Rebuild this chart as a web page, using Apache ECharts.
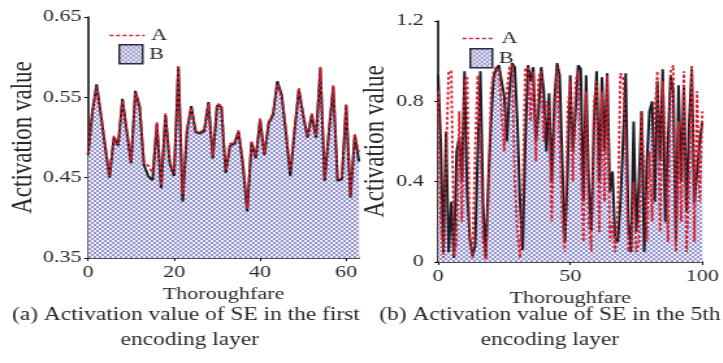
<!DOCTYPE html>
<html>
<head>
<meta charset="utf-8">
<script src="https://cdn.jsdelivr.net/npm/echarts@6/dist/echarts.min.js"></script>
<style>
  html, body { margin: 0; padding: 0; background: #fff; overflow: hidden; }
  #wrap { width: 723px; height: 363px; overflow: hidden; }
  /* the figure is drawn on a narrower canvas and widened horizontally */
  #chart { width: 556px; height: 363px; transform: scaleX(1.3); transform-origin: 0 0; }
</style>
</head>
<body>
<div id="wrap"><div id="chart"></div></div>
<script>
// ---- Panel (a): first encoding layer, 64 thoroughfares ----
const seA_layer1 = [
  0.480, 0.530, 0.563, 0.530, 0.490, 0.452, 0.502, 0.492, 0.546, 0.510,
  0.471, 0.555, 0.540, 0.469, 0.465, 0.456, 0.519, 0.440, 0.530, 0.470,
  0.456, 0.590, 0.430, 0.510, 0.537, 0.509, 0.507, 0.510, 0.542, 0.477,
  0.542, 0.540, 0.459, 0.492, 0.494, 0.509, 0.470, 0.411, 0.496, 0.477,
  0.524, 0.480, 0.520, 0.530, 0.567, 0.555, 0.510, 0.459, 0.510, 0.562,
  0.530, 0.502, 0.530, 0.502, 0.588, 0.449, 0.510, 0.565, 0.449, 0.450,
  0.542, 0.427, 0.505, 0.480
];
const seB_layer1 = [
  0.478, 0.532, 0.566, 0.528, 0.488, 0.450, 0.500, 0.490, 0.548, 0.508,
  0.468, 0.558, 0.538, 0.466, 0.452, 0.447, 0.517, 0.437, 0.528, 0.468,
  0.452, 0.588, 0.420, 0.508, 0.539, 0.507, 0.505, 0.508, 0.544, 0.474,
  0.540, 0.538, 0.456, 0.490, 0.492, 0.507, 0.466, 0.408, 0.494, 0.474,
  0.522, 0.478, 0.518, 0.528, 0.570, 0.553, 0.506, 0.452, 0.508, 0.560,
  0.528, 0.500, 0.528, 0.500, 0.586, 0.446, 0.508, 0.563, 0.446, 0.448,
  0.540, 0.425, 0.503, 0.470
];
const yTicks_layer1 = [0.35, 0.45, 0.55, 0.65];
const xTicks_layer1 = [0, 20, 40, 60];

// ---- Panel (b): fifth encoding layer, 101 thoroughfares ----
const seA_layer5 = [
  0.85, 0.20, 0.02, 0.50, 0.95, 0.95, 0.03, 0.10, 0.75, 0.20,
  0.90, 0.92, 0.10, 0.02, 0.55, 0.93, 0.60, 0.10, 0.01, 0.30,
  0.85, 0.95, 0.97, 0.96, 0.75, 0.55, 0.85, 0.97, 0.98, 0.40,
  0.15, 0.02, 0.35, 0.96, 0.97, 0.70, 0.95, 0.50, 0.92, 0.95,
  0.60, 0.80, 0.75, 0.20, 0.70, 0.97, 0.60, 0.20, 0.05, 0.75,
  0.90, 0.40, 0.90, 0.95, 0.50, 0.10, 0.85, 0.20, 0.05, 0.80,
  0.90, 0.15, 0.85, 0.30, 0.93, 0.10, 0.20, 0.05, 0.25, 0.94,
  0.92, 0.55, 0.05, 0.08, 0.40, 0.05, 0.10, 0.75, 0.45, 0.10,
  0.55, 0.20, 0.75, 0.95, 0.15, 0.90, 0.60, 0.10, 0.95, 0.98,
  0.05, 0.70, 0.20, 0.95, 0.05, 0.40, 0.98, 0.10, 0.85, 0.30,
  0.75
];
const seB_layer5 = [
  0.93, 0.60, 0.05, 0.65, 0.05, 0.30, 0.02, 0.55, 0.62, 0.40,
  0.95, 0.35, 0.12, 0.03, 0.08, 0.55, 0.95, 0.30, 0.02, 0.40,
  0.70, 0.92, 0.96, 0.98, 0.90, 0.83, 0.60, 0.85, 0.99, 0.97,
  0.70, 0.30, 0.06, 0.60, 0.98, 0.90, 0.97, 0.60, 0.75, 0.97,
  0.85, 0.55, 0.84, 0.40, 0.80, 0.99, 0.93, 0.50, 0.10, 0.45,
  0.93, 0.55, 0.75, 0.98, 0.96, 0.30, 0.93, 0.40, 0.15, 0.70,
  0.95, 0.40, 0.92, 0.55, 0.94, 0.35, 0.45, 0.12, 0.10, 0.30,
  0.60, 0.94, 0.20, 0.05, 0.70, 0.15, 0.40, 0.75, 0.05, 0.50,
  0.75, 0.80, 0.30, 0.90, 0.50, 0.96, 0.20, 0.60, 0.93, 0.85,
  0.10, 0.88, 0.40, 0.87, 0.25, 0.70, 0.96, 0.30, 0.45, 0.60,
  0.70
];
const yTicks_layer5 = [0, 0.4, 0.8, 1.2];
const xTicks_layer5 = [0, 50, 100];

const seriesNames = ['A', 'B'];
const captions = [
  ['(a) Activation value of SE in the first', 'encoding layer'],
  ['(b) Activation value of SE in the 5th', 'encoding layer']
];

// ---- styling ----
const FONT = 'Liberation Serif';
const TEXT = '#2a2a2a';
const RED = '#d9202e';
const DARK = '#1c1c24';

// checkered lavender fill used under series B
function checker() {
  const c = document.createElement('canvas');
  c.width = 4; c.height = 4;
  const g = c.getContext('2d');
  g.fillStyle = '#ececf7'; g.fillRect(0, 0, 4, 4);
  g.fillStyle = '#9898d0';
  g.fillRect(0, 0, 2, 2); g.fillRect(2, 2, 2, 2);
  return c;
}
const hatch = { image: checker(), repeat: 'repeat' };

const pairs = arr => arr.map((v, i) => [i, v]);

function xAxisFor(gridIndex, max, ticks, gap) {
  return {
    type: 'value', gridIndex, min: 0, max,
    name: 'Thoroughfare', nameLocation: 'middle', nameGap: gap,
    nameTextStyle: { fontFamily: FONT, fontSize: 17, color: TEXT },
    axisLine: { lineStyle: { color: '#111', width: 1.6 } },
    axisTick: { length: 3, lineStyle: { color: '#111' }, customValues: ticks },
    axisLabel: { fontFamily: FONT, fontSize: 17, color: TEXT, margin: 6, customValues: ticks },
    splitLine: { show: false }
  };
}
function yAxisFor(gridIndex, min, max, ticks, margin, gap, fmt) {
  return {
    type: 'value', gridIndex, min, max,
    name: 'Activation value', nameLocation: 'middle', nameRotate: 90, nameGap: gap,
    nameTextStyle: { fontFamily: FONT, fontSize: 23, color: TEXT },
    axisLine: { show: true, lineStyle: { color: '#111', width: 1.6 } },
    axisTick: { show: true, length: 3, lineStyle: { color: '#111' }, customValues: ticks },
    axisLabel: { fontFamily: FONT, fontSize: 17, color: TEXT, margin, customValues: ticks, formatter: fmt },
    splitLine: { show: false }
  };
}

function lineSeries(name, data, axis, isB, withArea) {
  const s = {
    name, type: 'line', data: pairs(data),
    xAxisIndex: axis, yAxisIndex: axis,
    symbol: 'none', silent: true, animation: false,
    lineStyle: isB ? { color: DARK, width: 2 } : { color: RED, width: 1.8, type: [3, 2] },
    itemStyle: { color: isB ? DARK : RED },
    z: isB ? 2 : 3
  };
  if (withArea) s.areaStyle = { color: hatch, opacity: 1, origin: 'start' };
  return s;
}

function legendPair(xA, yA, wA, xB, yB, wB, hB) {
  const txt = { fontFamily: FONT, fontSize: 17, color: TEXT };
  return [
    {
      left: xA, top: yA, itemWidth: wA, itemHeight: 14, selectedMode: false,
      textStyle: txt,
      lineStyle: { color: RED, type: [3, 2], width: 1.6 },
      data: [{ name: seriesNames[0], itemStyle: { color: 'rgba(0,0,0,0)', borderWidth: 0 } }]
    },
    {
      left: xB, top: yB, itemWidth: wB, itemHeight: hB, selectedMode: false,
      textStyle: txt,
      data: [{ name: seriesNames[1], icon: 'rect', itemStyle: { color: hatch, borderColor: '#2a2a3a', borderWidth: 1.5 } }]
    }
  ];
}

function caption(x, y, text, size) {
  return {
    type: 'text', x, y,
    style: { text, fontFamily: FONT, fontSize: size, fill: TEXT, textAlign: 'center', textVerticalAlign: 'middle' }
  };
}

const chart = echarts.init(document.getElementById('chart'), null, { renderer: 'canvas' });
chart.setOption({
  animation: false,
  backgroundColor: '#fff',
  grid: [
    { left: 67.7, top: 17, width: 208.5, height: 241 },
    { left: 337, top: 21, width: 207, height: 241 }
  ],
  xAxis: [
    xAxisFor(0, seA_layer1.length - 1, xTicks_layer1, 23),
    xAxisFor(1, seA_layer5.length - 1, xTicks_layer5, 20)
  ],
  yAxis: [
    yAxisFor(0, yTicks_layer1[0], yTicks_layer1[yTicks_layer1.length - 1], yTicks_layer1, 5, 38.5, v => v.toFixed(2)),
    yAxisFor(1, yTicks_layer5[0], yTicks_layer5[yTicks_layer5.length - 1], yTicks_layer5, 11, 36.5, v => String(+v.toFixed(1)))
  ],
  legend: [
    ...legendPair(78.5, 22, 27, 86, 39, 18, 19),
    ...legendPair(350, 25, 25, 356, 43, 17, 19)
  ],
  series: [
    lineSeries('B', seB_layer1, 0, true, true),
    lineSeries('A', seA_layer1, 0, false, false),
    lineSeries('B', seB_layer5, 1, true, true),
    lineSeries('A', seA_layer5, 1, false, false)
  ],
  graphic: [
    caption(143, 315, captions[0][0], 18),
    caption(146, 340, captions[0][1], 18),
    caption(423, 315, captions[1][0], 18),
    caption(423, 340, captions[1][1], 18)
  ]
});
</script>
</body>
</html>
